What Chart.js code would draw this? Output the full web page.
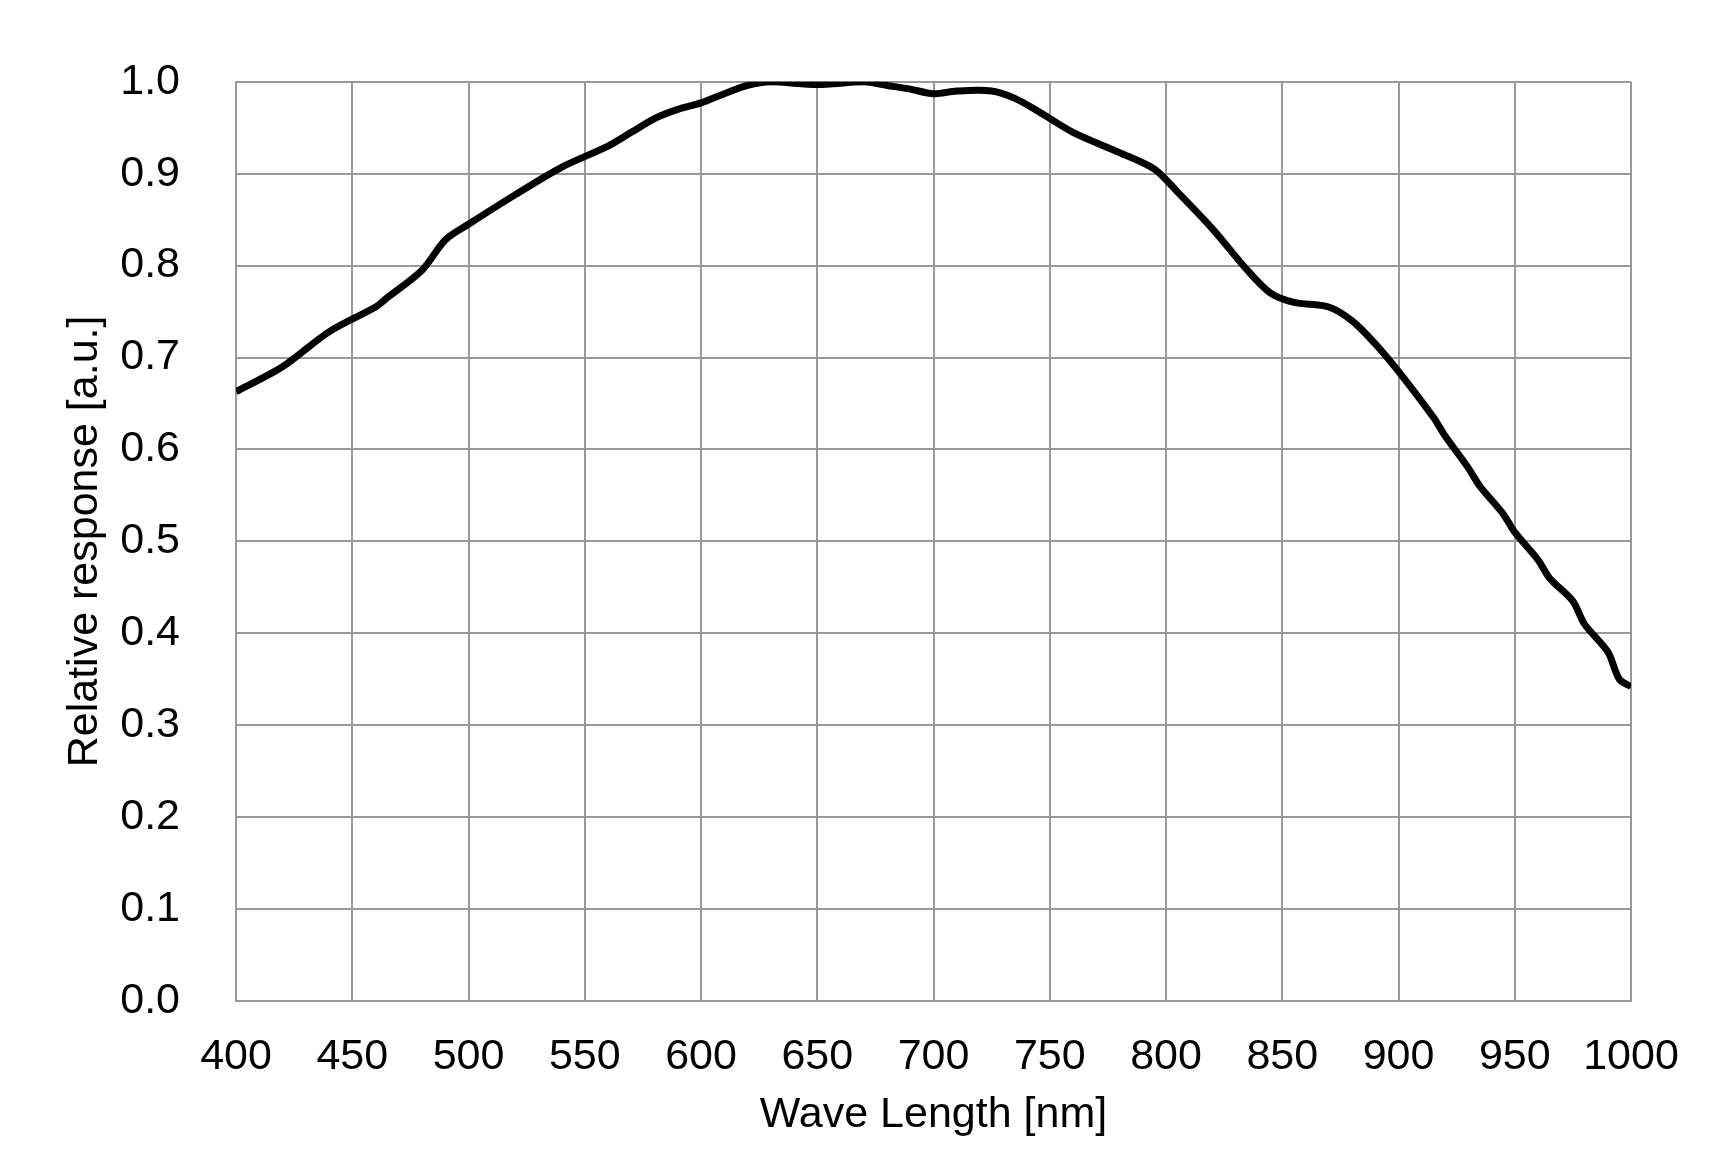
<!DOCTYPE html>
<html><head><meta charset="utf-8">
<script src="https://cdn.jsdelivr.net/npm/chart.js@4"></script>
<style>html,body{margin:0;background:#fff}#w{width:1719px;height:1174px}</style>
</head><body><div id="w"><canvas id="c"></canvas></div>
<script>
const wavelengths=[400,420,440,460,465,480,490,500,520,540,560,570,580,590,600,610,620,630,650,670,680,690,700,710,725,735,745,760,780,795,805,820,835,845,855,870,880,890,900,915,920,930,935,945,950,960,965,975,980,990,995,1000];
const response=[0.663,0.69,0.728,0.755,0.765,0.795,0.828,0.845,0.877,0.907,0.93,0.945,0.96,0.97,0.977,0.987,0.996,1.0,0.997,1.0,0.996,0.992,0.987,0.99,0.99,0.982,0.968,0.945,0.923,0.905,0.88,0.84,0.795,0.77,0.76,0.755,0.74,0.715,0.685,0.635,0.615,0.58,0.56,0.53,0.51,0.48,0.46,0.435,0.41,0.38,0.35,0.342];
const xTitle="Wave Length [nm]", yTitle="Relative response [a.u.]";
const font={family:"'Liberation Sans', Arial, sans-serif",size:43};
new Chart(document.getElementById('c'),{
 type:'line',
 data:{datasets:[{data:wavelengths.map((x,i)=>({x,y:response[i]})),borderColor:'#000',borderWidth:7,pointRadius:0,tension:0.3,fill:false}]},
 options:{responsive:true,maintainAspectRatio:false,animation:false,
  layout:{padding:{left:55,right:88,top:44,bottom:29}},
  plugins:{legend:{display:false},tooltip:{enabled:false}},
  scales:{
   x:{type:'linear',min:400,max:1000,
    ticks:{stepSize:50,color:'#000',font,padding:30,maxRotation:0,callback:v=>String(v)},
    grid:{color:'#999',lineWidth:2,tickLength:0},border:{color:'#999',width:2},
    title:{display:true,text:xTitle,color:'#000',font,padding:{top:4}},
    afterFit(s){s.height=144;}},
   y:{min:0,max:1,
    ticks:{stepSize:0.1,color:'#000',font,padding:56,callback:v=>v.toFixed(1)},
    grid:{color:'#999',lineWidth:2,tickLength:0},border:{color:'#999',width:2},
    title:{display:true,text:yTitle,color:'#000',font,padding:{bottom:4}},
    afterFit(s){s.width=181;}}
  }}
});
</script></body></html>
